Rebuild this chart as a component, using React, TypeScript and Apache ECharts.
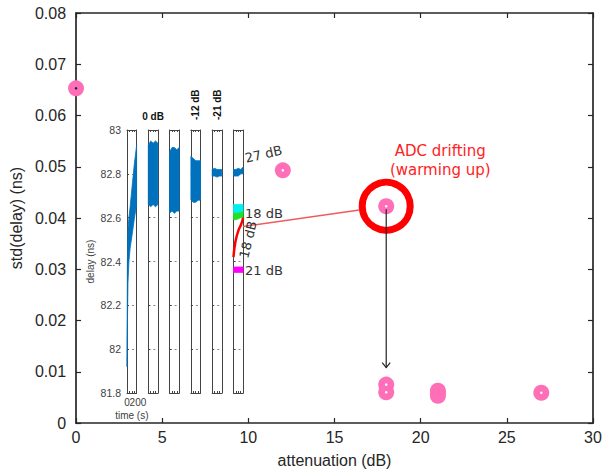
import React, { useEffect, useRef } from "react";
import * as echarts from "echarts";

// ---- main scatter: std of delay vs attenuation ----
const refAttenuation = [0];
const refStd = [0.0653];
const attenuation = [12, 18, 18, 18, 27];
const stdDelay = [0.0493, 0.0423, 0.0075, 0.006, 0.0059];
const attenuation21 = [21, 21, 21];
const stdDelay21 = [0.0063, 0.0058, 0.0053];
const driftPoint = [18, 0.0423];
const arrowEnd = [18, 0.0108];

// ---- inset: delay (ns) vs time (s), one panel per run ----
const timeTicks = [0, 200];
const warmTime = [0, 8, 20, 40, 65, 105, 150, 200];
const warmLow = [81.92, 82.1, 82.3, 82.4, 82.46, 82.52, 82.59, 82.66];
const warmHigh = [81.95, 82.4, 82.55, 82.6, 82.65, 82.74, 82.84, 82.93];

const runTime = [0, 50, 100, 150, 200];
const run0Low = [82.66, 82.65, 82.66, 82.65, 82.66];
const run0High = [82.93, 82.95, 82.94, 82.95, 82.94];
const run1Low = [82.62, 82.63, 82.62, 82.63, 82.63];
const run1High = [82.9, 82.92, 82.92, 82.91, 82.92];
const run12Low = [82.68, 82.67, 82.67, 82.68, 82.68];
const run12High = [82.88, 82.87, 82.86, 82.86, 82.86];
const run21Low = [82.79, 82.79, 82.785, 82.79, 82.79];
const run21High = [82.82, 82.825, 82.82, 82.82, 82.82];

const att27Low = [82.79, 82.79, 82.79, 82.8, 82.8];
const att27High = [82.82, 82.82, 82.825, 82.82, 82.83];
const att18aLow = [82.62, 82.62, 82.62, 82.62, 82.62];
const att18aHigh = [82.66, 82.66, 82.66, 82.66, 82.66];
const att18bLow = [82.59, 82.59, 82.595, 82.6, 82.6];
const att18bHigh = [82.62, 82.62, 82.62, 82.625, 82.625];
const att21Low = [82.35, 82.35, 82.35, 82.35, 82.35];
const att21High = [82.375, 82.375, 82.375, 82.375, 82.375];
const driftTime = [0, 40, 100, 160, 200];
const driftDelay = [82.42, 82.49, 82.54, 82.57, 82.6];

const insetTicks = { min: 81.8, max: 83, interval: 0.2 };

const PINK = "#ff6fb8";
const BLUE = "#0072bd";
const AXIS = "#262626";
const FONT = "Liberation Sans, Arial, sans-serif";
const ANN_FONT = "DejaVu Sans, sans-serif";

const panelLeft0 = 127;
const panelStep = 21.3;
const panelWidth = 9.6;
const panelTop = 130;
const panelHeight = 263;
const PANELS = 6;

const zip = (xs: number[], ys: number[]) => xs.map((x, i) => [x, ys[i]]);

function band(k: number, t: number[], lo: number[], hi: number[], color: string) {
  const ai = 2 + 2 * k;
  return {
    type: "custom",
    xAxisIndex: ai,
    yAxisIndex: ai,
    silent: true,
    data: t.map((x, i) => [x, lo[i], hi[i]]),
    encode: { x: 0, y: [1, 2] },
    renderItem: (params: any, api: any) => {
      if (params.dataIndex !== 0) return null;
      const top = t.map((x, i) => api.coord([x, hi[i]]));
      const bot = t.map((x, i) => api.coord([x, lo[i]])).reverse();
      return {
        type: "polygon",
        shape: { points: [...top, ...bot] },
        style: { fill: color, stroke: color, lineWidth: 0.8 },
      };
    },
  };
}

function buildOption() {
  const grids: any[] = [{ left: 74, right: 12, top: 13, bottom: 49 }];
  const mainLine = { onZero: false, lineStyle: { color: AXIS, width: 1.7 } };
  const mainTick = { inside: true, length: 5, lineStyle: { color: AXIS, width: 1.2 } };
  const xAxes: any[] = [
    {
      gridIndex: 0, type: "value", min: 0, max: 30, interval: 5, position: "bottom",
      name: "attenuation (dB)", nameLocation: "middle", nameGap: 29,
      nameTextStyle: { fontSize: 16, color: AXIS, fontFamily: FONT },
      axisLine: mainLine, axisTick: mainTick,
      axisLabel: { fontSize: 16, color: AXIS, fontFamily: FONT, margin: 6 },
      splitLine: { show: false },
    },
    {
      gridIndex: 0, type: "value", min: 0, max: 30, interval: 5, position: "top",
      axisLine: mainLine, axisTick: mainTick,
      axisLabel: { show: false }, splitLine: { show: false },
    },
  ];
  const yAxes: any[] = [
    {
      gridIndex: 0, type: "value", min: 0, max: 0.08, interval: 0.01, position: "left",
      name: "std(delay) (ns)", nameLocation: "middle", nameGap: 49,
      nameTextStyle: { fontSize: 16, color: AXIS, fontFamily: FONT },
      axisLine: mainLine, axisTick: mainTick,
      axisLabel: { fontSize: 16, color: AXIS, fontFamily: FONT, margin: 10 },
      splitLine: { show: false },
    },
    {
      gridIndex: 0, type: "value", min: 0, max: 0.08, interval: 0.01, position: "right",
      axisLine: mainLine, axisTick: mainTick,
      axisLabel: { show: false }, splitLine: { show: false },
    },
  ];

  for (let k = 0; k < PANELS; k++) {
    const gi = k + 1;
    grids.push({
      left: panelLeft0 + k * panelStep, width: panelWidth, top: panelTop, height: panelHeight,
    });
    const edge = { onZero: false, lineStyle: { color: "#444", width: 1 } };
    const tick = { inside: true, length: 3, lineStyle: { color: "#444" } };
    const minor = { show: true, splitNumber: 4, length: 2, lineStyle: { color: "#444" } };
    xAxes.push({
      gridIndex: gi, type: "value", min: 0, max: 200, interval: 200, position: "bottom",
      name: k === 0 ? "time (s)" : "", nameLocation: "middle", nameGap: 17,
      nameTextStyle: { fontSize: 10, color: "#404040", fontFamily: FONT },
      axisLine: edge, axisTick: tick, minorTick: minor,
      axisLabel: { show: false },
      splitLine: { show: false },
    });
    xAxes.push({
      gridIndex: gi, type: "value", min: 0, max: 200, interval: 200, position: "top",
      axisLine: edge, axisTick: tick, minorTick: minor,
      axisLabel: { show: false }, splitLine: { show: false },
    });
    yAxes.push({
      gridIndex: gi, type: "value", ...insetTicks, position: "left",
      name: k === 0 ? "delay (ns)" : "", nameLocation: "middle", nameGap: 32,
      nameTextStyle: { fontSize: 10, color: "#404040", fontFamily: FONT },
      axisLine: edge,
      axisTick: { inside: true, length: 2, lineStyle: { color: "#444" } },
      axisLabel: { show: k === 0, fontSize: 10.5, color: "#404040", fontFamily: FONT, margin: 6 },
      splitLine: { show: true, lineStyle: { color: "#888", type: [2, 3], width: 1 } },
    });
    yAxes.push({
      gridIndex: gi, type: "value", ...insetTicks, position: "right",
      axisLine: edge, axisTick: { show: false }, axisLabel: { show: false }, splitLine: { show: false },
    });
  }

  const pinkStyle = { color: PINK, opacity: 1 };
  const series: any[] = [
    band(0, warmTime, warmLow, warmHigh, BLUE),
    band(1, runTime, run0Low, run0High, BLUE),
    band(2, runTime, run1Low, run1High, BLUE),
    band(3, runTime, run12Low, run12High, BLUE),
    band(4, runTime, run21Low, run21High, BLUE),
    band(5, runTime, att27Low, att27High, BLUE),
    band(5, runTime, att18aLow, att18aHigh, "#00f0f0"),
    band(5, runTime, att18bLow, att18bHigh, "#22e022"),
    band(5, runTime, att21Low, att21High, "#ff00ff"),
    {
      type: "line", xAxisIndex: 12, yAxisIndex: 12, data: zip(driftTime, driftDelay),
      symbol: "none", smooth: true, lineStyle: { color: "#ff0000", width: 2.5 }, silent: true, z: 3,
    },
    {
      type: "scatter", xAxisIndex: 0, yAxisIndex: 0, clip: false, z: 3,
      data: zip(refAttenuation, refStd), symbolSize: 16, itemStyle: pinkStyle,
    },
    {
      type: "scatter", xAxisIndex: 0, yAxisIndex: 0, clip: false, z: 3,
      data: zip(attenuation, stdDelay), symbolSize: 16, itemStyle: pinkStyle,
    },
    {
      type: "scatter", xAxisIndex: 0, yAxisIndex: 0, clip: false, z: 4,
      data: zip(refAttenuation, refStd), symbolSize: 2.5, itemStyle: { color: "#222", opacity: 1 },
    },
    {
      type: "scatter", xAxisIndex: 0, yAxisIndex: 0, clip: false, z: 4,
      data: zip(attenuation, stdDelay), symbolSize: 2.5, itemStyle: { color: "#fff", opacity: 1 },
    },
    {
      type: "scatter", xAxisIndex: 0, yAxisIndex: 0, clip: false, z: 5,
      data: zip(attenuation21, stdDelay21), symbolSize: 16, itemStyle: pinkStyle,
    },
    {
      type: "scatter", xAxisIndex: 0, yAxisIndex: 0, clip: false, z: 6,
      data: [driftPoint], symbolSize: 48,
      itemStyle: { color: "rgba(0,0,0,0)", borderColor: "#ff0000", borderWidth: 7, opacity: 1 },
    },
  ];

  return {
    animation: false,
    backgroundColor: "#ffffff",
    grid: grids,
    xAxis: xAxes,
    yAxis: yAxes,
    series,
  };
}

export default function App() {
  const ref = useRef<HTMLDivElement>(null);
  useEffect(() => {
    const chart = echarts.init(ref.current!, undefined, { renderer: "svg" });
    chart.setOption(buildOption());

    const px = (ai: number, v: number[]) =>
      chart.convertToPixel({ xAxisIndex: ai, yAxisIndex: ai }, v) as number[];

    const drift = px(0, driftPoint);
    const tip = px(0, arrowEnd);
    const p6 = 12;
    const start = px(p6, [200, 82.56]);
    const ang = Math.atan2(drift[1] - start[1], drift[0] - start[0]);
    const end = [drift[0] - Math.cos(ang) * 27, drift[1] - Math.sin(ang) * 27];
    const panelCenter = (k: number) => px(2 + 2 * k, [100, 83]);
    const c1 = panelCenter(1);
    const c3 = panelCenter(3);
    const c4 = panelCenter(4);
    const lab27 = px(p6, [200, 82.87]);
    const lab18 = px(p6, [200, 82.62]);
    const lab21 = px(p6, [200, 82.36]);
    const lab18r = px(p6, [200, 82.5]);
    const t0 = px(2, [timeTicks[0], 81.8]);
    const t1 = px(2, [timeTicks[1], 81.8]);

    const annText = (x: number, y: number, text: string, extra: any = {}) => ({
      type: "text", x, y, silent: true, z: 100,
      style: {
        text, fill: "#333", font: `13px ${ANN_FONT}`, align: "left", verticalAlign: "middle",
        ...extra,
      },
    });
    const tickFont = { fill: "#404040", font: `10px ${FONT}`, verticalAlign: "top" };

    chart.setOption({
      graphic: [
        {
          type: "line", silent: true, z: 90,
          shape: { x1: start[0], y1: start[1], x2: end[0], y2: end[1] },
          style: { stroke: "#f05a5a", lineWidth: 1.5 },
        },
        {
          type: "line", silent: true, z: 90,
          shape: { x1: drift[0], y1: drift[1] + 3, x2: tip[0], y2: tip[1] },
          style: { stroke: "#222", lineWidth: 1.2 },
        },
        {
          type: "polyline", silent: true, z: 90,
          shape: { points: [[tip[0] - 4, tip[1] - 5], [tip[0], tip[1]], [tip[0] + 4, tip[1] - 5]] },
          style: { stroke: "#222", lineWidth: 1.2, fill: "none" },
        },
        annText(t0[0], t0[1] + 4, String(timeTicks[0]), { ...tickFont, align: "center" }),
        annText(t1[0] - 7, t1[1] + 4, String(timeTicks[1]), { ...tickFont, align: "left" }),
        annText(drift[0] + 54, drift[1] - 55, "ADC drifting", {
          fill: "#ff2222", font: `15px ${ANN_FONT}`, align: "center",
        }),
        annText(drift[0] + 54, drift[1] - 36, "(warming up)", {
          fill: "#ff2222", font: `15px ${ANN_FONT}`, align: "center",
        }),
        annText(c1[0], c1[1] - 14, "0 dB", {
          fill: "#111", font: `bold 10px ${FONT}`, align: "center",
        }),
        {
          ...annText(c3[0], c3[1] - 10, "-12 dB", { fill: "#111", font: `bold 10px ${FONT}` }),
          rotation: Math.PI / 2,
        },
        {
          ...annText(c4[0], c4[1] - 10, "-21 dB", { fill: "#111", font: `bold 10px ${FONT}` }),
          rotation: Math.PI / 2,
        },
        { ...annText(lab27[0] + 2, lab27[1], "27 dB"), rotation: 0.23 },
        annText(lab18[0] + 2, lab18[1], "18 dB"),
        annText(lab21[0] + 2, lab21[1], "21 dB"),
        { ...annText(lab18r[0] + 5, lab18r[1], "18 dB", { align: "center" }), rotation: 1.33 },
      ],
    });

    return () => chart.dispose();
  }, []);
  return (
    <div
      ref={ref}
      style={{ position: "fixed", left: 0, top: 0, width: 605, height: 473, background: "#fff" }}
    />
  );
}
